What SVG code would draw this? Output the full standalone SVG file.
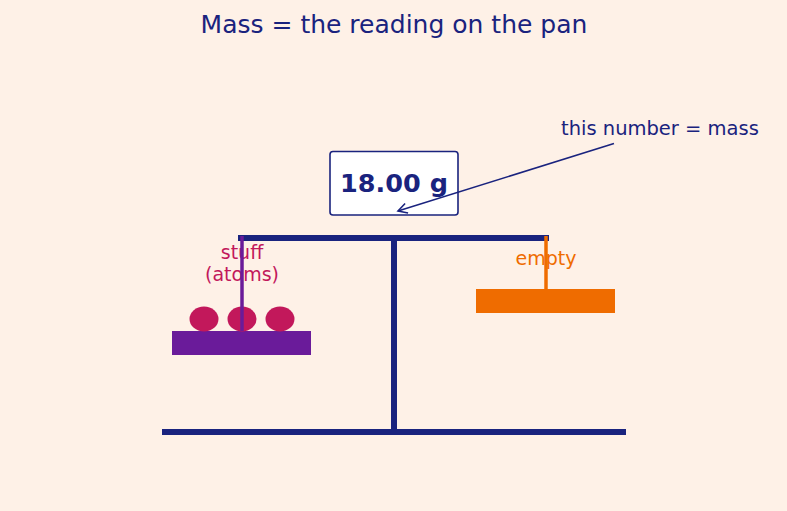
<svg xmlns="http://www.w3.org/2000/svg" width="787" height="511" viewBox="0 0 787 511">
<style>
text{font-family:"DejaVu Sans",sans-serif}
.navy{fill:#1a237e}
.frame{stroke:#1a237e;stroke-width:6;fill:none}
.lbl{font-size:19px;text-anchor:middle}
</style>
<defs>
<marker id="ah" markerWidth="12" markerHeight="12" refX="10" refY="6" orient="auto" markerUnits="userSpaceOnUse">
<path d="M1,1 L10,6 L1,11" fill="none" stroke="#1a237e" stroke-width="1.6"/>
</marker>
</defs>
<rect width="787" height="511" fill="#fef1e7"/>
<text x="394" y="33" font-size="25" text-anchor="middle" class="navy">Mass = the reading on the pan</text>
<g id="scale">
<line x1="238" y1="238" x2="549" y2="238" class="frame"/>
<line x1="394" y1="238" x2="394" y2="435" class="frame"/>
<line x1="162" y1="432" x2="626" y2="432" class="frame"/>
</g>
<g id="left-pan">
<rect x="172" y="331" width="139" height="24" fill="#6a1b9a"/>
<ellipse cx="204" cy="319" rx="14.5" ry="12.5" fill="#c2185b"/>
<ellipse cx="242" cy="319" rx="14.5" ry="12.5" fill="#c2185b"/>
<ellipse cx="280" cy="319" rx="14.5" ry="12.5" fill="#c2185b"/>
<text x="242" y="259" class="lbl" fill="#c2185b">stuff</text>
<text x="242" y="281" class="lbl" fill="#c2185b">(atoms)</text>
<line x1="242" y1="236" x2="242" y2="331" stroke="#6a1b9a" stroke-width="3.5"/>
</g>
<g id="right-pan">
<text x="546" y="265" class="lbl" fill="#ef6c00">empty</text>
<line x1="546" y1="236" x2="546" y2="290" stroke="#ef6c00" stroke-width="3.5"/>
<rect x="476" y="289" width="139" height="24" fill="#ef6c00"/>
</g>
<g id="display">
<rect x="330" y="151.5" width="128" height="63.5" rx="3" fill="#ffffff" stroke="#1a237e" stroke-width="1.6"/>
<text x="394" y="192" font-size="25.5" font-weight="bold" text-anchor="middle" class="navy">18.00 g</text>
</g>
<g id="annotation">
<text x="561" y="135" font-size="19.5" class="navy">this number = mass</text>
</g>
<g id="connectors">
<line x1="614" y1="143.5" x2="398" y2="211" stroke="#1a237e" stroke-width="1.6" marker-end="url(#ah)"/>
</g>
</svg>
